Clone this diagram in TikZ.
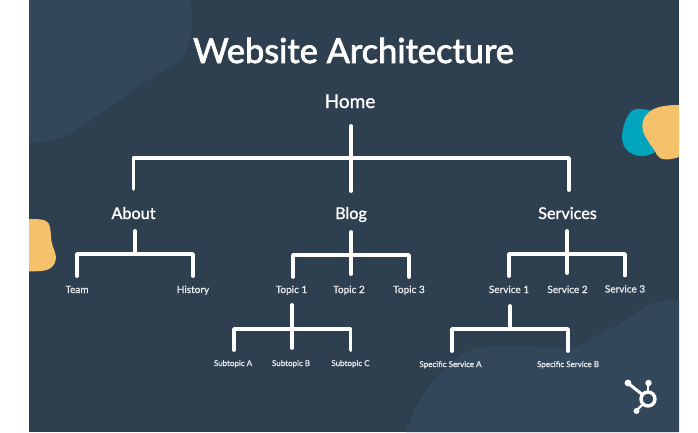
\documentclass[tikz,border=0pt]{standalone}
\usepackage{fontspec}
\setmainfont{Lato}
\newfontfamily\midfont[FakeBold=1.2]{Lato}
\newfontfamily\lightbold[FakeBold=2.2]{Lato}
\definecolor{bgnavy}{HTML}{2E3F50}
\definecolor{blobnavy}{HTML}{33475B}
\definecolor{blobgold}{HTML}{F5C26B}
\definecolor{blobteal}{HTML}{00A4BD}
\definecolor{smalltxt}{HTML}{E8EBEE}
\tikzset{
  x=1pt,y=-1pt,
  lab/.style={anchor=base,inner sep=0pt,outer sep=0pt,text=white},
  titletxt/.style={lab,font=\lightbold\fontsize{34.4}{40}\selectfont},
  lvlone/.style={lab,font=\midfont\fontsize{16.2}{20}\selectfont},
  lvltwo/.style={lab,font=\midfont\fontsize{10}{12}\selectfont,text=smalltxt},
  lvlthree/.style={lab,font=\midfont\fontsize{8}{10}\selectfont,text=smalltxt},
  conn/.style={draw=white,line width=3.8pt,line cap=round,line join=round},
  hub/.style={draw=white,line width=2.4pt,line cap=round},
  hubdot/.style={fill=white,draw=none},
}
\begin{document}
\begin{tikzpicture}
\useasboundingbox (0,0) rectangle (698,432);
\fill[white] (0,0) rectangle (698,432);
\fill[bgnavy] (29,0) rectangle (679,432);
% blobs
\fill[blobnavy] (29,0) -- (190,0) .. controls (194,20) and (192,45) .. (180,62)
  .. controls (165,70) and (150,78) .. (143,83) .. controls (125,95) and (110,108) .. (100,113)
  .. controls (85,125) and (65,142) .. (29,143) -- cycle;
\fill[blobnavy] (679,301) .. controls (660,298) and (648,304) .. (636,313)
  .. controls (625,321) and (618,326) .. (609,329) .. controls (590,338) and (580,349) .. (566,349)
  .. controls (545,349) and (530,345) .. (516,346) .. controls (495,347) and (480,345) .. (469,351)
  .. controls (450,360) and (425,385) .. (412,416) .. controls (409,422) and (407,428) .. (406,432)
  -- (679,432) -- cycle;
\fill[blobgold] (29,219) .. controls (38,219) and (47,219) .. (49,224)
  .. controls (52,232) and (50,240) .. (53,247) .. controls (57,256) and (57,262) .. (52,267)
  .. controls (46,272) and (38,271) .. (29,271.5) -- cycle;
\fill[blobteal] (636,109) .. controls (628,110) and (623,125) .. (622,135)
  .. controls (621,148) and (630,156) .. (642,156) .. controls (650,156) and (656,152) .. (660,148)
  -- (665,115) .. controls (655,112) and (645,108) .. (636,109) -- cycle;
\fill[blobgold] (679,105) .. controls (668,105) and (655,106) .. (648,113)
  .. controls (641,120) and (641,128) .. (645,136) .. controls (650,145) and (655,150) .. (657,155)
  .. controls (660,161) and (670,160) .. (679,157) -- cycle;
% text
\node[titletxt] (title) at (353.5,63) {Website Architecture};
\node[lvlone,font=\midfont\fontsize{19}{22}\selectfont,text depth=18pt] (home) at (350,108) {Home};
\node[lvlone,text height=30pt,text depth=12pt] (about) at (133.5,219) {About};
\node[lvlone,text height=28pt,text depth=13pt] (blog) at (351,219) {Blog};
\node[lvlone,text height=29pt,text depth=12pt] (services) at (567.5,219) {Services};
\node[lvltwo,text height=17pt] (team) at (77,293) {Team};
\node[lvltwo,text height=17pt] (history) at (193,293) {History};
\node[lvltwo,text height=16pt,text depth=12pt] (topica) at (291.5,293) {Topic 1};
\node[lvltwo,text height=19pt] (topicb) at (349,293) {Topic 2};
\node[lvltwo,text height=16pt] (topicc) at (409,293) {Topic 3};
\node[lvltwo,text height=17pt,text depth=13pt] (servicea) at (509,293) {Service 1};
\node[lvltwo,text height=20pt] (serviceb) at (567.5,293) {Service 2};
\node[lvltwo,text height=17pt] (servicec) at (625,292.5) {Service 3};
\node[lvlthree,text height=16pt] (subtopica) at (233,366) {Subtopic A};
\node[lvlthree,text height=18pt] (subtopicb) at (291,366) {Subtopic B};
\node[lvlthree,text height=16pt] (subtopicc) at (350.5,366) {Subtopic C};
\node[lvlthree,text height=16pt] (specifica) at (450.5,367) {Specific Service A};
\node[lvlthree,text height=16pt] (specificb) at (568,367) {Specific Service B};
% junctions
\coordinate (busone) at (351,158);
\coordinate (busabout) at (135,254);
\coordinate (busblog) at (351,255);
\coordinate (busservices) at (567,254);
\coordinate (bustopic) at (292,329);
\coordinate (busservice) at (510,329);
% connectors
\draw[conn] (about.north) |- (busone) -| ([xshift=1.5pt]services.north);
\draw[conn] (home.south -| blog.north) -- (blog.north);
\draw[conn] ([xshift=1.5pt]about.south) -- (busabout);
\draw[conn] (team.north) |- (busabout) -| (history.north);
\draw[conn] (blog.south) -- (topicb.north -| blog.south);
\draw[conn] ([xshift=1.5pt]topica.north) |- (busblog) -| (topicc.north);
\draw[conn] (services.south -| busservices) -- (serviceb.north -| busservices);
\draw[conn] (servicea.north) |- (busservices) -| (servicec.north);
\draw[conn] (topica.south -| bustopic) -- (subtopicb.north -| bustopic);
\draw[conn] ([xshift=1pt]subtopica.north) |- (bustopic) -| (subtopicc.north);
\draw[conn] (servicea.south -| busservice) -- (busservice);
\draw[conn] ([xshift=1.5pt]specifica.north) |- (busservice) -| (specificb.north);
% logo
\draw[hub,line width=3pt] (648,399) -- (629,384);
\draw[hub] (648,399) -- (648,383);
\draw[hub] (648,399) -- (636,411);
\fill[hubdot] (628,383) circle (3.4);
\fill[hubdot] (648.5,383) circle (3.2);
\fill[hubdot] (636.5,411) circle (3);
\draw[white,line width=3.4pt,fill=blobnavy] (648,399) circle (7);
\end{tikzpicture}
\end{document}
